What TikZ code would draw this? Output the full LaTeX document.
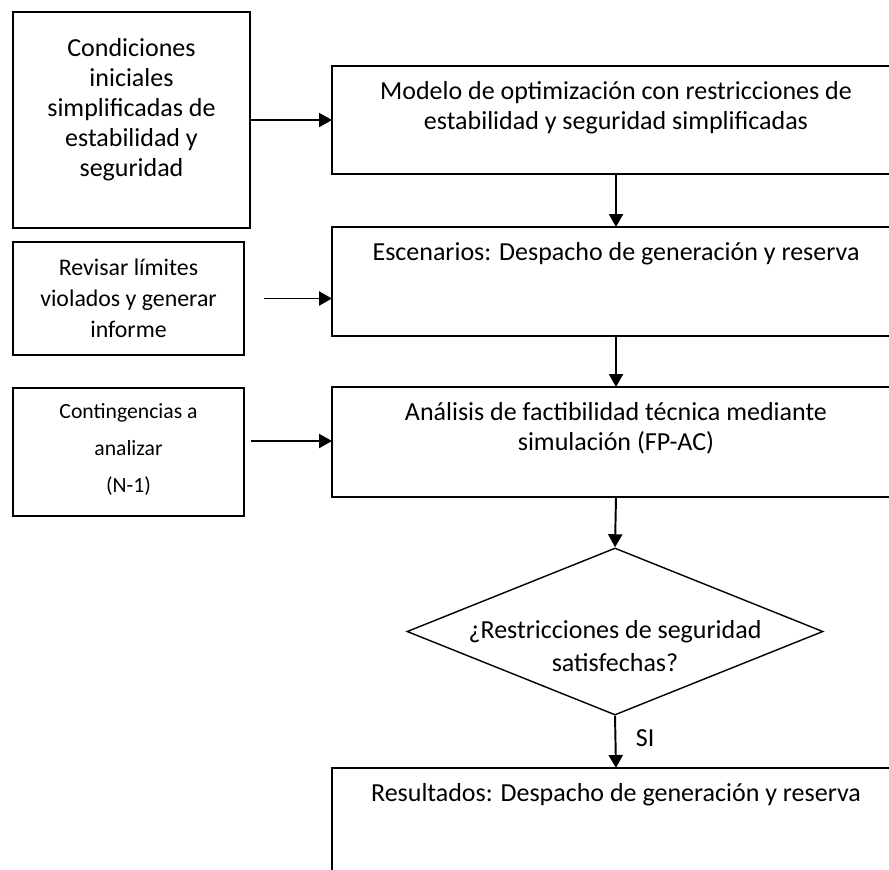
\documentclass[tikz,border=0pt]{standalone}
\usepackage{fontspec}
\setmainfont{Carlito}
\usetikzlibrary{arrows.meta,positioning,calc,shapes.geometric}
\newlength{\px}
\setlength{\px}{0.4615pt}
% text at the top of a box: width, height, top padding (in px)
\newcommand{\cajatexto}[4]{\parbox[t][#2\px][t]{#1\px}{\centering\vspace*{#3\px}\strut#4\par}}

\begin{document}
\begin{tikzpicture}[x=0.4615pt,y=-0.4615pt,
  caja/.style={draw,line width=0.92pt,inner sep=0pt,anchor=north west,font=\fontsize{12}{13.8}\selectfont},
  abierta/.style={caja,draw=none},
  borde/.style={line width=0.92pt},
  decision/.style={diamond,draw,line width=0.65pt,inner sep=0pt,minimum width=192pt,minimum height=77.1pt},
  flecha/.style={line width=0.9pt,-{Triangle[length=6pt,width=6.5pt]}}]
\path[use as bounding box,fill=white] (0,0) rectangle (889,869);
% left column
\node[caja] (condiciones) at (12,11) {\cajatexto{237}{216}{24}{Condiciones\\iniciales\\simplificadas de\\estabilidad y\\seguridad}};
\node[caja,font=\fontsize{11}{14.3}\selectfont] (revisar) at (12,241) {\cajatexto{231}{113}{12.3}{Revisar límites\\violados y generar\\informe}};
\node[caja,font=\fontsize{10}{17}\selectfont] (contingencias) at (12,387) {\cajatexto{231}{128}{5.2}{Contingencias a\\analizar\\(N-1)}};
% main column (its boxes run out of the page on the right)
\node[abierta] (modelo) at (332,66) {\cajatexto{566}{106}{12}{Modelo de optimización con restricciones de\\estabilidad y seguridad simplificadas}};
\node[abierta] (escenarios) at (332,227) {\cajatexto{566}{107}{12}{Escenarios: Despacho de generación y reserva}};
\node[abierta] (analisis) at (332,387) {\cajatexto{566}{108}{12}{Análisis de factibilidad técnica mediante\\simulación (FP-AC)}};
\node[abierta] (resultados) at (332,768) {\cajatexto{566}{101}{12}{Resultados: Despacho de generación y reserva}};
\foreach \caja in {modelo,escenarios,analisis}
  \draw[borde] (\caja.north west) ++(557,0) -- (\caja.north west) -- (\caja.south west) -- ++(557,0);
\draw[borde] (resultados.north west) ++(557,0) -- (resultados.north west) -- (resultados.south west);
\node[decision] (pregunta) at (615,631.5) {};
\node[font=\fontsize{12}{15.2}\selectfont,align=center] (preguntatexto) at (615,646) {¿Restricciones de seguridad\\satisfechas?};
% connectors
\draw[flecha] (condiciones.east) -- (condiciones.east -| modelo.west);
\draw[flecha] ($(revisar.east)+(19,0)$) -- (revisar.east -| escenarios.west);
\draw[flecha] ($(contingencias.east |- 0,441)+(6,0)$) -- (analisis.west |- 0,441);
\draw[flecha] (modelo.south) -- (escenarios.north);
\draw[flecha] (escenarios.south) -- (analisis.north);
\draw[flecha] (analisis.south) -- (pregunta.north);
\draw[flecha] (pregunta.south) -- node[anchor=west,inner sep=0pt,xshift=9pt,yshift=1.6pt,font=\fontsize{12}{14}\selectfont] (si) {SI} (resultados.north);
\end{tikzpicture}
\end{document}
